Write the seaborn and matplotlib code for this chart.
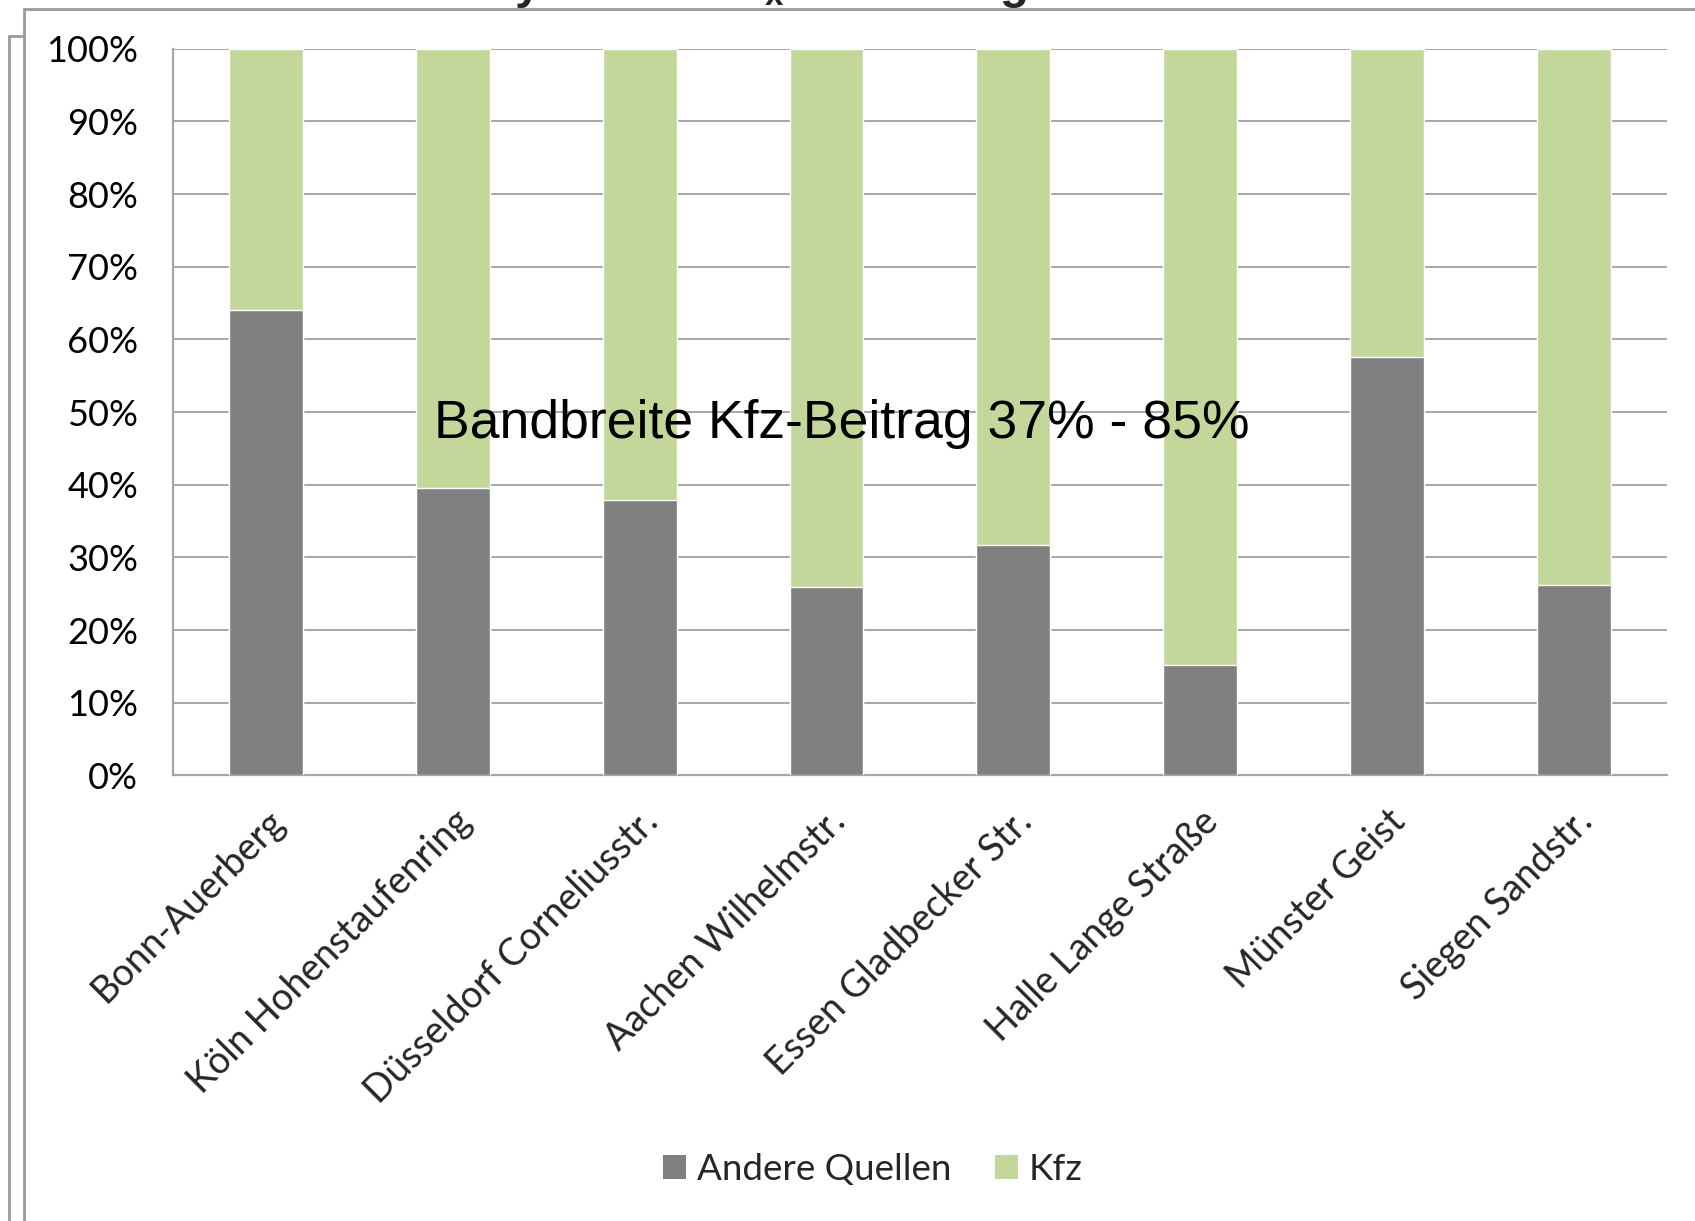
import matplotlib
matplotlib.use("Agg")
import matplotlib.pyplot as plt
import seaborn as sns
import pandas as pd
from matplotlib.lines import Line2D
from matplotlib.patches import Patch
from matplotlib.ticker import FuncFormatter, MultipleLocator, FixedLocator

stations = ["Bonn-Auerberg", "Köln Hohenstaufenring", "Düsseldorf Corneliusstr.",
            "Aachen Wilhelmstr.", "Essen Gladbecker Str.", "Halle Lange Straße",
            "Münster Geist", "Siegen Sandstr."]
andere = [64.0, 39.6, 37.9, 25.9, 31.7, 15.2, 57.6, 26.2]
kfz = [100 - a for a in andere]
series_names = ["Andere Quellen", "Kfz"]
annotation = "Bandbreite Kfz-Beitrag 37% - 85%"
title = r"Analyse der NO$_\mathbf{x}$-Belastung"

c_andere = "#808080"
c_kfz = "#C4D79B"

sns.set_theme(style="white")
plt.rcParams["font.family"] = ["Lato", "DejaVu Sans"]
plt.rcParams["mathtext.fontset"] = "custom"
plt.rcParams["mathtext.bf"] = "Liberation Sans:bold"
plt.rcParams["mathtext.rm"] = "Liberation Sans"

df = pd.DataFrame({"station": stations, "andere": andere,
                   "total": [a + k for a, k in zip(andere, kfz)]})

fig = plt.figure(figsize=(16.95, 12.21), dpi=100)
ax = fig.add_axes([0.102, 0.365, 0.8815, 0.595])

sns.barplot(data=df, x="station", y="total", color=c_kfz, width=0.395,
            saturation=1, ax=ax, zorder=2)
sns.barplot(data=df, x="station", y="andere", color=c_andere, width=0.395,
            saturation=1, ax=ax, zorder=3)

ax.set_xlim(-0.5, len(stations) - 0.5)
ax.set_ylim(0, 100)
ax.yaxis.set_major_locator(MultipleLocator(10))
ax.yaxis.set_major_formatter(FuncFormatter(lambda v, p: f"{int(round(v))}%"))
ax.grid(axis="y", color="#A6A6A6", linewidth=1.4, zorder=0)
ax.set_axisbelow(True)
ax.set_xlabel("")
ax.set_ylabel("")

for s in ["top", "right"]:
    ax.spines[s].set_visible(False)
for s in ["left", "bottom"]:
    ax.spines[s].set_color("#A6A6A6")
    ax.spines[s].set_linewidth(1.6)

ax.set_xticks(range(len(stations)))
ax.set_xticklabels(stations, rotation=45, ha="right", rotation_mode="anchor",
                   fontsize=27)
ax.tick_params(axis="x", length=0, pad=20)
ax.xaxis.set_minor_locator(FixedLocator([i - 0.5 for i in range(len(stations) + 1)]))
ax.tick_params(axis="x", which="minor", length=12, width=1.4, color="#A6A6A6",
               direction="out")
ax.tick_params(axis="y", labelsize=26, length=12, width=1.4, color="#A6A6A6",
               direction="out", pad=13)
for t in ax.get_yticklabels():
    t.set_color("black")

ax.text(3.08, 48.3, annotation, ha="center", va="center", fontsize=38.5,
        family="Liberation Sans", color="black", zorder=5)

handles = [Patch(facecolor=c_andere, edgecolor="none"),
           Patch(facecolor=c_kfz, edgecolor="none")]
fig.legend(handles, series_names, loc="center", bbox_to_anchor=(0.515, 0.042),
           ncol=2, frameon=False, fontsize=26.5, handlelength=0.62, handleheight=0.62,
           handletextpad=0.3, columnspacing=1.2)

# partially visible title (cut off at the top edge, as in the reference)
fig.text(719 / 1695, 1 + 1.5 / 1221, title, ha="center", va="baseline",
         fontsize=34, fontweight="bold", family="Liberation Sans")

# frame lines
fc = "#9A9A9A"
W, H = 1695, 1221
fig.add_artist(Line2D([24 / W, 1], [1 - 8.6 / H, 1 - 8.6 / H], color=fc, lw=2,
                      transform=fig.transFigure))
fig.add_artist(Line2D([24 / W, 24 / W], [1 - 8.6 / H, 0], color=fc, lw=2,
                      transform=fig.transFigure))
fig.add_artist(Line2D([8.6 / W, 24 / W], [1 - 36 / H, 1 - 36 / H], color=fc, lw=2,
                      transform=fig.transFigure))
fig.add_artist(Line2D([8.6 / W, 8.6 / W], [1 - 36 / H, 0], color=fc, lw=2,
                      transform=fig.transFigure))

fig.savefig("out.png", dpi=100)
